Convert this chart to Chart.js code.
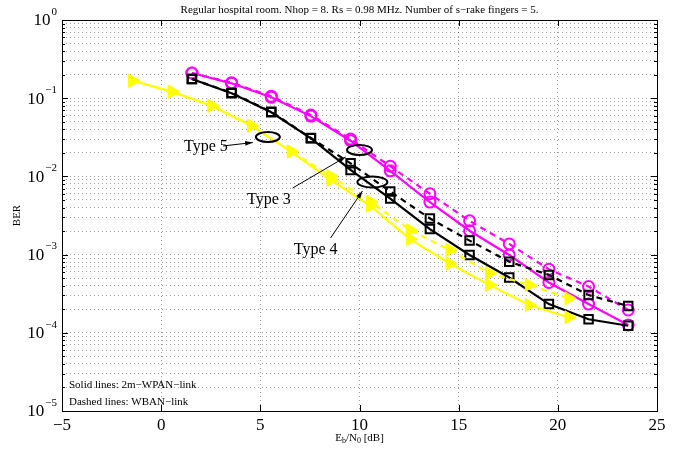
<!DOCTYPE html>
<html>
<head>
<meta charset="utf-8">
<script src="https://cdn.jsdelivr.net/npm/chart.js@4"></script>
<style>
  html, body { margin: 0; padding: 0; background: #fff; }
  #wrap { width: 680px; height: 449px; }
</style>
</head>
<body>
<div id="wrap"><canvas id="ber"></canvas></div>
<script>
// Eb/N0 points [dB]
const ebnoType34 = [1.55, 3.55, 5.55, 7.55, 9.55, 11.55, 13.55, 15.55, 17.55, 19.55, 21.55, 23.55];
const ebnoType5 = [-1.45, 0.55, 2.55, 4.55, 6.55, 8.55, 10.55, 12.55, 14.55, 16.55, 18.55, 20.55];

// BER, solid = 2m-WPAN link, dashed = WBAN link
const type3Solid = [0.21, 0.155, 0.103, 0.059, 0.0286, 0.0118, 0.0047, 0.00202, 0.00099, 0.00044, 0.000233, 0.000126];
const type3Dashed = [0.21, 0.158, 0.106, 0.061, 0.030, 0.0135, 0.0060, 0.0027, 0.00137, 0.00065, 0.00039, 0.000196];
const type4Solid = [0.176, 0.1155, 0.066, 0.0307, 0.0121, 0.0052, 0.00212, 0.00099, 0.00051, 0.000233, 0.000149, 0.000123];
const type4Dashed = [0.176, 0.117, 0.067, 0.031, 0.0147, 0.0064, 0.0029, 0.00151, 0.00081, 0.00055, 0.000304, 0.00022];
const type5Solid = [0.1675, 0.121, 0.080, 0.0445, 0.0207, 0.0090, 0.0042, 0.00158, 0.00077, 0.00041, 0.000227, 0.000158];
const type5Dashed = [0.1675, 0.121, 0.080, 0.0445, 0.021, 0.0101, 0.00475, 0.00206, 0.00115, 0.00058, 0.00041, 0.000276];

const xTicks = [-5, 0, 5, 10, 15, 20, 25];
const yDecades = [0, -1, -2, -3, -4, -5];
const ySignificands = [1, 2, 3, 4, 5, 6, 7, 8, 9];

// annotation positions in data units
const notes = [
  { text: "Type 5", at: [2.26, 0.0238], from: [3.12, 0.0245], to: [4.62, 0.0271], ring: [5.38, 0.0319, 12, 5] },
  { text: "Type 3", at: [5.43, 0.0050], from: [6.63, 0.0071], to: [9.30, 0.0177], ring: [10.0, 0.0218, 12.5, 5] },
  { text: "Type 4", at: [7.79, 0.00115], from: [8.54, 0.00163], to: [10.15, 0.0065], ring: [10.65, 0.00848, 15, 5.5] },
];

const SERIF = '"Liberation Serif", "Times New Roman", serif';
const MAGENTA = "#ff00ff";
const YELLOW = "#ffff00";
const GRID = "rgba(0,0,0,0.38)";

const pts = (xs, ys) => xs.map((x, i) => ({ x, y: ys[i] }));

function series(data, color, style, dashed, extra) {
  return Object.assign({
    data,
    borderColor: color,
    backgroundColor: "rgba(0,0,0,0)",
    borderWidth: 2.2,
    borderDash: dashed ? [6, 5] : [],
    pointStyle: style,
    pointRadius: 5.5,
    pointBorderWidth: 2,
    pointBorderColor: color,
    pointBackgroundColor: "rgba(0,0,0,0)",
    tension: 0,
  }, extra || {});
}

const triangle = { pointRadius: 7.5, pointRotation: 90, pointBackgroundColor: YELLOW, pointBorderWidth: 1 };
const square = { pointRadius: 6 };

const framePlugin = {
  id: "frame",
  afterDraw(chart) {
    const { ctx, chartArea: a, scales } = chart;
    const xs = scales.x, ys = scales.y;
    ctx.save();

    // annotations
    ctx.strokeStyle = "#000";
    ctx.fillStyle = "#000";
    notes.forEach(n => {
      const [ex, ey, rx, ry] = n.ring;
      ctx.lineWidth = 2;
      ctx.beginPath();
      ctx.ellipse(xs.getPixelForValue(ex), ys.getPixelForValue(ey), rx, ry, 0, 0, Math.PI * 2);
      ctx.stroke();

      const x1 = xs.getPixelForValue(n.from[0]), y1 = ys.getPixelForValue(n.from[1]);
      const x2 = xs.getPixelForValue(n.to[0]), y2 = ys.getPixelForValue(n.to[1]);
      ctx.lineWidth = 1;
      ctx.beginPath();
      ctx.moveTo(x1, y1);
      ctx.lineTo(x2, y2);
      ctx.stroke();
      const ang = Math.atan2(y2 - y1, x2 - x1);
      ctx.beginPath();
      ctx.moveTo(x2, y2);
      ctx.lineTo(x2 - 8 * Math.cos(ang - 0.3), y2 - 8 * Math.sin(ang - 0.3));
      ctx.lineTo(x2 - 8 * Math.cos(ang + 0.3), y2 - 8 * Math.sin(ang + 0.3));
      ctx.closePath();
      ctx.fill();

      ctx.font = "16px " + SERIF;
      ctx.textAlign = "center";
      ctx.textBaseline = "middle";
      ctx.fillText(n.text, xs.getPixelForValue(n.at[0]), ys.getPixelForValue(n.at[1]));
    });

    // box
    ctx.lineWidth = 1;
    ctx.strokeStyle = "#000";
    ctx.strokeRect(a.left + 0.5, a.top + 0.5, a.right - a.left, a.bottom - a.top);

    // inward ticks
    ctx.beginPath();
    xTicks.forEach(v => {
      const x = Math.round(xs.getPixelForValue(v)) + 0.5;
      ctx.moveTo(x, a.bottom); ctx.lineTo(x, a.bottom - 6);
      ctx.moveTo(x, a.top); ctx.lineTo(x, a.top + 6);
    });
    yDecades.forEach(e => {
      ySignificands.forEach(s => {
        const v = s * Math.pow(10, e);
        if (v > 1) return;
        const y = Math.round(ys.getPixelForValue(v)) + 0.5;
        const len = s === 1 ? 6 : 3;
        ctx.moveTo(a.left, y); ctx.lineTo(a.left + len, y);
        ctx.moveTo(a.right, y); ctx.lineTo(a.right - len, y);
      });
    });
    ctx.stroke();

    // y tick labels 10^e
    yDecades.forEach(e => {
      const y = ys.getPixelForValue(Math.pow(10, e));
      const expTxt = e === 0 ? "0" : "\u2212" + (-e);
      ctx.font = "11px " + SERIF;
      const ew = ctx.measureText(expTxt).width;
      ctx.textAlign = "left";
      ctx.textBaseline = "middle";
      ctx.fillText(expTxt, 57 - ew, y - 8);
      ctx.font = "17px " + SERIF;
      ctx.textAlign = "right";
      ctx.fillText("10", 56 - ew, y + 1);
    });

    // title
    ctx.font = "11px " + SERIF;
    ctx.textAlign = "center";
    ctx.textBaseline = "middle";
    const cx = (a.left + a.right) / 2;
    ctx.fillText("Regular hospital room. Nhop = 8. Rs = 0.98 MHz. Number of s\u2212rake fingers = 5.", cx, 10);

    // y title
    ctx.save();
    ctx.translate(17, (a.top + a.bottom) / 2);
    ctx.rotate(-Math.PI / 2);
    ctx.fillText("BER", 0, 0);
    ctx.restore();

    // x title E_b/N_0 [dB]
    const parts = [["E", 0, 11], ["b", 3, 8], ["/N", 0, 11], ["0", 3, 8], [" [dB]", 0, 11]];
    let w = 0;
    parts.forEach(p => { ctx.font = p[2] + "px " + SERIF; w += ctx.measureText(p[0]).width; });
    let px = cx - w / 2;
    ctx.textAlign = "left";
    parts.forEach(p => {
      ctx.font = p[2] + "px " + SERIF;
      ctx.fillText(p[0], px, 438 + p[1]);
      px += ctx.measureText(p[0]).width;
    });

    // line style notes
    ctx.font = "11px " + SERIF;
    ctx.fillText("Solid lines: 2m\u2212WPAN\u2212link", a.left + 7, 385);
    ctx.fillText("Dashed lines: WBAN\u2212link", a.left + 7, 402);

    ctx.restore();
  },
};

new Chart(document.getElementById("ber"), {
  type: "line",
  data: {
    datasets: [
      series(pts(ebnoType5, type5Dashed), YELLOW, "triangle", true, triangle),
      series(pts(ebnoType5, type5Solid), YELLOW, "triangle", false, triangle),
      series(pts(ebnoType34, type4Dashed), "#000", "rect", true, square),
      series(pts(ebnoType34, type4Solid), "#000", "rect", false, square),
      series(pts(ebnoType34, type3Dashed), MAGENTA, "circle", true),
      series(pts(ebnoType34, type3Solid), MAGENTA, "circle", false),
    ],
  },
  options: {
    responsive: true,
    maintainAspectRatio: false,
    animation: false,
    devicePixelRatio: 1,
    layout: { padding: { left: 0, right: 23, top: 20, bottom: 0 } },
    plugins: { legend: { display: false }, title: { display: false }, tooltip: { enabled: false } },
    scales: {
      x: {
        type: "linear",
        min: -5,
        max: 25,
        afterBuildTicks: s => { s.ticks = xTicks.map(value => ({ value })); },
        afterFit: s => { s.height = 38; },
        ticks: {
          color: "#000",
          font: { family: SERIF, size: 17 },
          padding: 4,
          maxRotation: 0,
          callback: v => String(v).replace("-", "\u2212"),
        },
        grid: { color: GRID, drawTicks: false, lineWidth: 1 },
        border: { display: false, dash: [1, 3] },
      },
      y: {
        type: "logarithmic",
        min: 1e-5,
        max: 1,
        afterBuildTicks: s => {
          const t = [];
          yDecades.forEach(e => ySignificands.forEach(m => {
            const v = m * Math.pow(10, e);
            if (v <= 1) t.push({ value: v });
          }));
          s.ticks = t.sort((p, q) => p.value - q.value);
        },
        afterFit: s => { s.width = 62; },
        ticks: { display: false },
        grid: { color: GRID, drawTicks: false, lineWidth: 1 },
        border: { display: false, dash: [1, 3] },
      },
    },
  },
  plugins: [framePlugin],
});
</script>
</body>
</html>
